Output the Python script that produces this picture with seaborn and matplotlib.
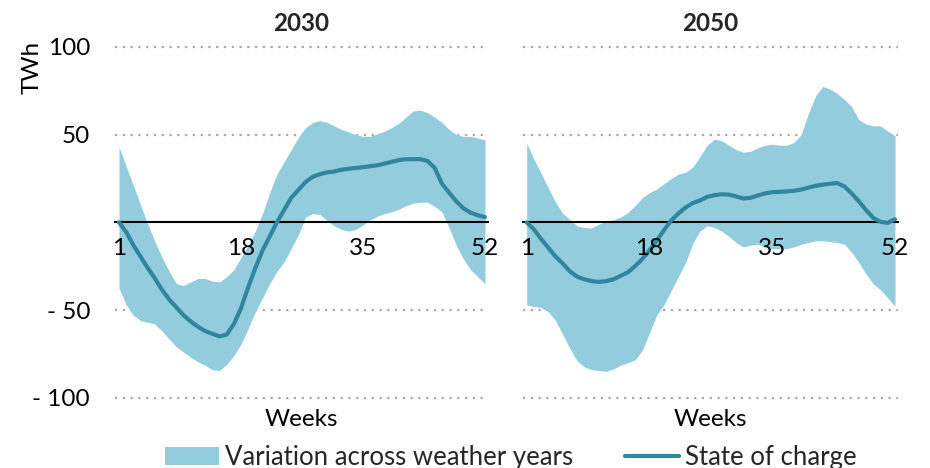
import numpy as np
import pandas as pd
import matplotlib
matplotlib.use("Agg")
import matplotlib.pyplot as plt
import seaborn as sns

# ---------------- data ----------------
weeks = list(range(1, 53))
panels = ["2030", "2050"]
xtick_weeks = [1, 18, 35, 52]
ytick_values = [-100, -50, 50, 100]
ytick_labels = ["- 100", "- 50", "50", "100"]

upper_2030 = [43, 32, 21, 10, -1, -11, -20, -28, -35, -36,
              -34, -32, -32, -33.5, -34, -31, -27, -20, -13, -5,
              5, 17, 27.5, 34.5, 41.5, 48.5, 54, 57, 58, 57,
              55, 53, 51.5, 50, 49, 49, 50.5, 52, 54, 56.5,
              60, 63.5, 64, 62.5, 60, 57, 53, 50, 49, 49,
              48, 47]
lower_2030 = [-37.5, -47, -53, -56, -57, -58, -62, -66.5, -71, -74,
              -77, -79.5, -81.5, -84, -84.5, -81, -76, -69.5, -60.5, -51,
              -43, -35, -28, -22.5, -15, -7, 3, 5, 4.5, 1,
              -2, -4, -5, -4, -1.5, 1.5, 3.5, 5, 6, 7.5,
              9.5, 11, 11.5, 11.5, 9, 6, -3, -13, -21, -27,
              -31, -35]
soc_2030 = [0, -5.5, -13, -19.5, -26, -32, -38.5, -44, -48.5, -53,
            -56.5, -59.5, -62, -63.5, -65, -64, -58, -49, -37, -26,
            -16, -8, 0, 7, 14, 18.5, 23, 26, 27.5, 28.5,
            29, 30, 30.5, 31, 31.5, 32, 32.5, 33.5, 34.5, 35.5,
            36, 36, 36, 35, 31, 22, 17, 12, 8, 5.5,
            4, 3]

upper_2050 = [45, 36, 28, 19.5, 11.5, 5, 1.5, -2, -3, -3.2,
              -1, 0.5, 1.5, 3, 5.5, 9.5, 14, 17, 19, 22,
              25, 27.5, 28.5, 31.5, 37.5, 44, 47.5, 46.5, 44, 41.5,
              40, 40.5, 42.5, 44, 44.5, 44, 44, 45.5, 50, 62,
              72, 77.5, 76, 73.5, 70, 66, 58.5, 56, 55, 55,
              52, 49.5]
lower_2050 = [-47, -48, -48.5, -51, -56, -64, -72, -79, -82.5, -84,
              -84.5, -85, -83.5, -81.5, -80, -78.5, -73, -63, -53, -47,
              -39, -31, -23, -12, -5, -2, -3, -5, -8, -11.5,
              -14, -13, -12.5, -14, -15, -15, -15, -14, -12.5, -11.5,
              -10.5, -10.5, -11, -11.5, -12.5, -17, -23, -29.5, -35, -38.5,
              -43, -48]
soc_2050 = [0, -4, -9.5, -14.5, -19.5, -23.5, -28, -31, -32.5, -33.5,
            -34, -33.5, -32.5, -30.5, -28.5, -25, -21, -16, -10.5, -4.5,
            1, 5, 8.5, 11, 12.5, 14.5, 15.5, 16, 15.8, 14.8,
            13.6, 14, 15.3, 16.5, 17.2, 17.4, 17.6, 18, 18.7, 19.8,
            20.8, 21.5, 22, 22.4, 20.5, 16.5, 12, 7, 2.5, 0.3,
            -0.3, 1.8]

series = {
    "2030": (upper_2030, lower_2030, soc_2030),
    "2050": (upper_2050, lower_2050, soc_2050),
}

# ---------------- style ----------------
sns.set_theme(style="white")
plt.rcParams["font.family"] = ["Lato", "DejaVu Sans"]
FS = 17.5
LEG_FS = 18.5
band_color = "#93CDDD"
line_color = "#31859C"
grid_color = "#A6A6A6"

fig = plt.figure(figsize=(9.3, 4.68), dpi=100)
W, H = 930, 468
top_px, bot_px = 41.7, 403.0
axes_px = [(115, 488), (523, 898)]
xlims = [(0.44, 52.42), (0.49, 52.42)]

axes = []
for i, (name, (x0, x1)) in enumerate(zip(panels, axes_px)):
    ax = fig.add_axes([x0 / W, 1 - bot_px / H, (x1 - x0) / W, (bot_px - top_px) / H])
    axes.append(ax)
    up, lo, soc = series[name]
    df = pd.DataFrame({"week": weeks, "upper": up, "lower": lo, "soc": soc})
    ax.fill_between(df["week"], df["lower"], df["upper"], color=band_color,
                    linewidth=0, label="Variation across weather years", zorder=1)
    sns.lineplot(data=df, x="week", y="soc", ax=ax, color=line_color,
                 linewidth=3, label="State of charge", zorder=4, legend=False)
    ax.set_xlim(*xlims[i])
    ax.set_ylim(-103, 103)
    ax.set_yticks(ytick_values)
    ax.set_yticklabels(ytick_labels)
    ax.set_axisbelow(True)
    ax.yaxis.grid(True, color=grid_color, linestyle=(0, (1, 2.5)), linewidth=1.6)
    ax.xaxis.grid(False)
    ax.xaxis.set_zorder(5)
    for s in ["top", "right", "left"]:
        ax.spines[s].set_visible(False)
    ax.spines["bottom"].set_position(("data", 0))
    ax.spines["bottom"].set_color("black")
    ax.spines["bottom"].set_linewidth(1.5)
    ax.spines["bottom"].set_zorder(3)
    ax.set_xticks(xtick_weeks)
    ax.set_xticklabels([str(w) for w in xtick_weeks])
    ax.tick_params(axis="x", length=0, pad=11, labelsize=FS, colors="black")
    ax.tick_params(axis="y", length=0, pad=18, labelsize=FS, colors="black")
    if i == 1:
        ax.tick_params(axis="y", labelleft=False)
    ax.set_xlabel("")
    ax.set_ylabel("")
    ax.set_title(name, fontsize=FS, fontweight="bold", pad=8)
    ax.text(0.5, -0.047, "Weeks", transform=ax.transAxes, ha="center", va="center",
            fontsize=FS, color="black")

fig.text(32 / W, 1 - 67 / H, "TWh", rotation=90, ha="center", va="center",
         fontsize=FS, color="black")

h1, l1 = axes[0].get_legend_handles_labels()
fig.legend(h1, l1, loc="center", bbox_to_anchor=(511 / W, 1 - 457 / H), ncol=2,
           frameon=False, fontsize=LEG_FS, handlelength=2.1, handleheight=0.7,
           handletextpad=0.25, columnspacing=2.0, borderpad=0, borderaxespad=0)

fig.savefig("out.png", dpi=100)
